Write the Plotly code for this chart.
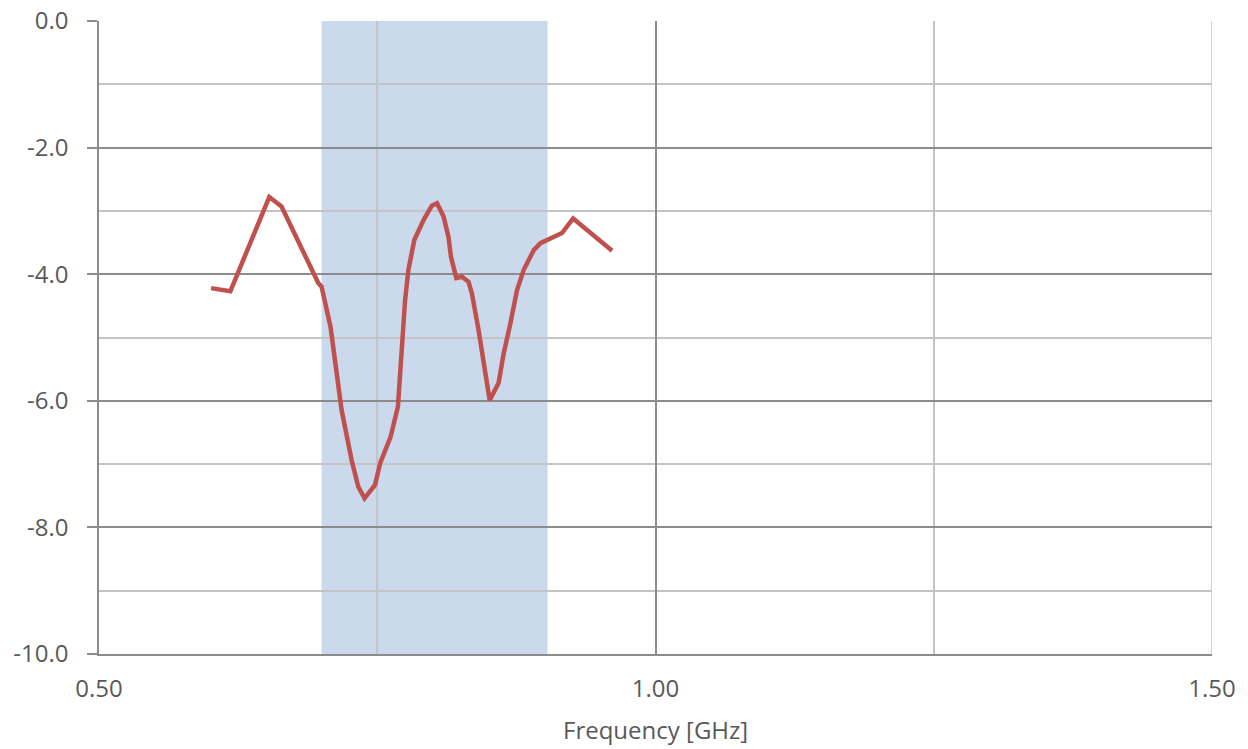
import plotly.graph_objects as go

freq = [0.6007, 0.618, 0.653, 0.664, 0.697, 0.700, 0.708, 0.718, 0.727, 0.733, 0.7386,
        0.748, 0.7527, 0.762, 0.7686, 0.771, 0.775, 0.778, 0.7833, 0.7917, 0.799, 0.8037,
        0.8096, 0.814, 0.8162, 0.821, 0.826, 0.832, 0.835, 0.841, 0.847, 0.851, 0.859,
        0.8636, 0.8696, 0.8756, 0.8816, 0.8906, 0.8966, 0.916, 0.926, 0.961]
s11 = [-4.22, -4.27, -2.78, -2.93, -4.14, -4.2, -4.83, -6.15, -6.94, -7.36, -7.54,
       -7.33, -6.98, -6.57, -6.09, -5.46, -4.41, -3.93, -3.46, -3.14, -2.92, -2.88,
       -3.09, -3.41, -3.72, -4.06, -4.04, -4.12, -4.30, -4.88, -5.62, -5.99, -5.72,
       -5.25, -4.78, -4.25, -3.93, -3.62, -3.51, -3.35, -3.12, -3.63]
band = [0.70, 0.903]
y_ticks = [0, -2, -4, -6, -8, -10]
y_labels = ["0.0", "-2.0", "-4.0", "-6.0", "-8.0", "-10.0"]
x_ticks = [0.5, 1.0, 1.5]
x_labels = ["0.50", "1.00", "1.50"]

fig = go.Figure()
fig.add_shape(type="rect", xref="x", yref="y", x0=band[0], x1=band[1], y0=-10, y1=0,
              fillcolor="#CAD9EB", line_width=0, layer="below")
fig.add_shape(type="line", xref="x", yref="y", x0=x_ticks[-1], x1=x_ticks[-1], y0=-10, y1=0,
              line=dict(color="#C4C4C4", width=1.5), layer="below")
fig.add_trace(go.Scatter(x=freq, y=s11, mode="lines",
                         line=dict(color="#C0504D", width=4.5),
                         showlegend=False, hoverinfo="skip"))

txt = "#595959"
font = dict(family="'Open Sans', sans-serif", size=24, color=txt)
fig.update_layout(
    width=1248, height=749,
    margin=dict(l=99, r=36, t=21, b=95, autoexpand=False),
    paper_bgcolor="white", plot_bgcolor="white",
    font=font,
    xaxis=dict(range=[0.5, 1.5], tickvals=x_ticks, ticktext=x_labels,
               showgrid=True, gridcolor="#8C8C8C", gridwidth=1.5,
               minor=dict(dtick=0.25, tick0=0.5, showgrid=True, gridcolor="#C4C4C4", gridwidth=1.5),
               zeroline=False, showline=True, linecolor="#8C8C8C", linewidth=1.5,
               ticks="", ticklabelstandoff=12),
    yaxis=dict(range=[-10, 0], tickvals=y_ticks, ticktext=y_labels,
               showgrid=True, gridcolor="#8C8C8C", gridwidth=1.5,
               minor=dict(dtick=1, tick0=0, showgrid=True, gridcolor="#C4C4C4", gridwidth=1.5),
               zeroline=False, showline=True, linecolor="#8C8C8C", linewidth=1.5,
               ticks="outside", ticklen=10, tickcolor="#8C8C8C", tickwidth=1.5,
               ticklabelstandoff=14),
    annotations=[dict(text="Frequency [GHz]", xref="paper", yref="paper", x=0.5, y=0,
                      xanchor="center", yanchor="middle", yshift=-75, showarrow=False,
                      font=dict(family="'Open Sans', sans-serif", size=24, color=txt))],
)
fig.write_html("out.html", config={"displayModeBar": False},
               post_script="document.body.style.margin='0px';")
